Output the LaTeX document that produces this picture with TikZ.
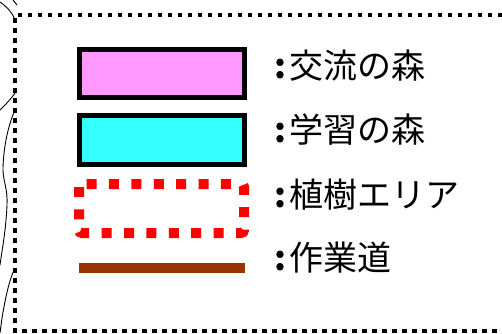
\documentclass[tikz,border=0pt]{standalone}
\usepackage{fontspec}
\newfontfamily\jpfont{Noto Sans CJK JP}
\begin{document}
\begin{tikzpicture}[x=1pt,y=-1pt,
  frame/.style={line width=4.5pt,dash pattern=on 4.5pt off 5.5pt},
  swatch/.style={draw=black,line width=5pt},
  plantarea/.style={draw=red,line width=10pt,dash pattern=on 10pt off 12.4pt,rounded corners=3pt},
  road/.style={draw={rgb,255:red,153;green,51;blue,0},line width=10pt},
  wave/.style={draw=black,line width=0.9pt},
  legtext/.style={anchor=west,inner sep=0pt,font=\jpfont\fontsize{34pt}{34pt}\selectfont}
]
\useasboundingbox (0,0) rectangle (502,333);
\fill[white] (0,0) rectangle (502,333);
% wavy lines at left
\draw[wave] (13,0) -- (17,5);
\draw[wave] (0,2) .. controls (7,7) and (12,12) .. (15,20);
\draw[wave] (0,110) .. controls (6,104) and (11,99) .. (15,93);
\draw[wave] (15,110) .. controls (8,125) and (3,150) .. (3,170) .. controls (3,180) and (8,190) .. (7,205) .. controls (6,230) and (2,250) .. (0,265);
\draw[wave] (15,268) .. controls (9,280) and (5,300) .. (2,318) -- (0,333);
% frame
\draw[frame] (502,15) -- (15,15) -- (15,331) -- (502,331);
% swatches
\draw[swatch,fill={rgb,255:red,255;green,153;blue,255}] (79.5,49.5) rectangle (244.5,97.5);
\draw[swatch,fill={rgb,255:red,51;green,255;blue,255}] (79.5,115.5) rectangle (244.5,164.5);
\draw[plantarea] (79,184) rectangle (244,233);
\draw[road] (79,268) -- (245,268);
% labels
\node[legtext] (t1) at (272,66) {\makebox[0.5em][c]{\textbf{:}}交流の森};
\node[legtext] (t2) at (272,130) {\makebox[0.5em][c]{\textbf{:}}学習の森};
\node[legtext] (t3) at (272,195) {\makebox[0.5em][c]{\textbf{:}}植樹エリア};
\node[legtext] (t4) at (272,258) {\makebox[0.5em][c]{\textbf{:}}作業道};
\end{tikzpicture}
\end{document}
